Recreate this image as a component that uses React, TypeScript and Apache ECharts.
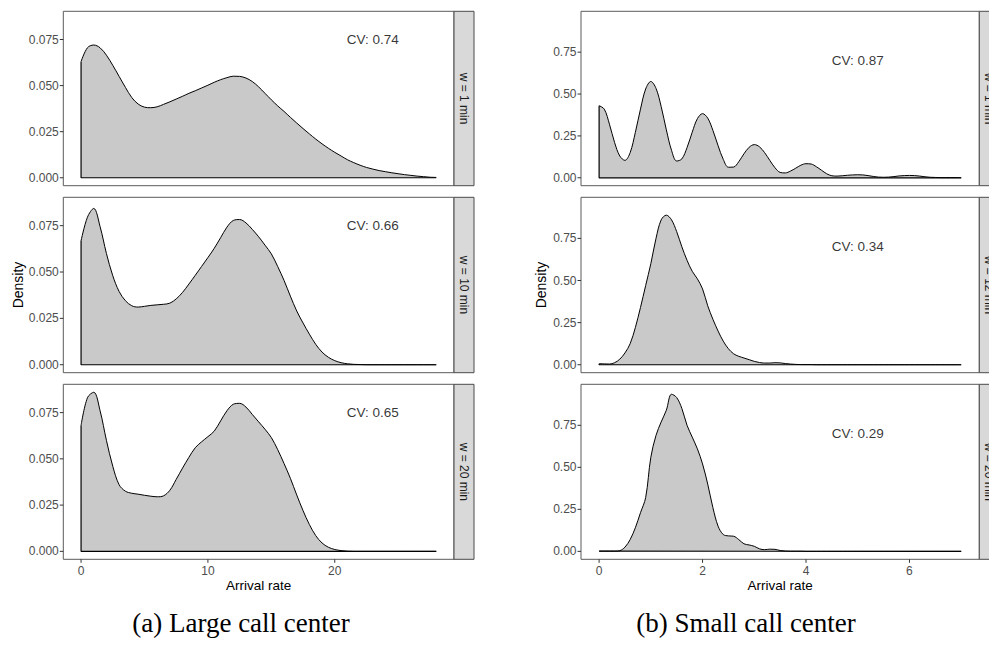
import React, { useEffect, useRef } from "react";
import * as echarts from "echarts";

// Sampling grids of the density estimates
const sampleGrid = (start: number, step: number, n: number) =>
  Array.from({ length: n }, (_, i) => +(start + i * step).toFixed(2));
const LARGE_X = sampleGrid(0, 0.5, 57); // 0 .. 28
const SMALL_X = sampleGrid(0, 0.1, 71); // 0 .. 7

// (a) Large call center, densities of the arrival rate
const LARGE_W1 = [
  0.063, 0.0705, 0.072, 0.0705, 0.0665, 0.061, 0.055, 0.049, 0.0435, 0.04,
  0.0383, 0.038, 0.0385, 0.0398, 0.0412, 0.0427, 0.0442, 0.0458, 0.0472, 0.0487,
  0.0502, 0.0518, 0.0532, 0.0543, 0.0551, 0.055, 0.0541, 0.0522, 0.0493, 0.0458,
  0.0423, 0.039, 0.036, 0.0328, 0.0297, 0.0267, 0.0238, 0.021, 0.0184, 0.016,
  0.0138, 0.0118, 0.0098, 0.0082, 0.0068, 0.0056, 0.0047, 0.0039, 0.0033, 0.0027,
  0.0022, 0.0017, 0.0013, 0.0009, 0.0006, 0.0003, 0.0002,
];
const LARGE_W10 = [
  0.0668, 0.0795, 0.0843, 0.0745, 0.06, 0.048, 0.0395, 0.0345, 0.0318, 0.0311,
  0.0315, 0.032, 0.0323, 0.0326, 0.0332, 0.0355, 0.039, 0.0435, 0.0482, 0.053,
  0.0578, 0.0628, 0.0685, 0.0742, 0.0778, 0.0783, 0.0765, 0.073, 0.069, 0.0645,
  0.0598, 0.053, 0.0455, 0.037, 0.029, 0.0225, 0.0165, 0.011, 0.0068, 0.004,
  0.0022, 0.0011, 0.0005, 0.0002, 0.0001, 0, 0, 0, 0, 0,
  0, 0, 0, 0, 0, 0, 0,
];
const LARGE_W20 = [
  0.068, 0.083, 0.086, 0.076, 0.06, 0.046, 0.036, 0.0325, 0.0314, 0.0309,
  0.0303, 0.0298, 0.0295, 0.03, 0.033, 0.0389, 0.045, 0.0508, 0.056, 0.0592,
  0.062, 0.065, 0.0705, 0.076, 0.0795, 0.08, 0.078, 0.074, 0.07, 0.066,
  0.0615, 0.055, 0.0475, 0.0395, 0.0305, 0.022, 0.0145, 0.0085, 0.0045, 0.0022,
  0.001, 0.0004, 0.0001, 0, 0, 0, 0, 0, 0, 0,
  0, 0, 0, 0, 0, 0, 0,
];

// (b) Small call center, densities of the arrival rate
const SMALL_W1 = [
  0.43, 0.41, 0.32, 0.21, 0.13, 0.104, 0.15, 0.27, 0.41, 0.53,
  0.575, 0.534, 0.425, 0.286, 0.164, 0.1, 0.113, 0.18, 0.272, 0.353,
  0.383, 0.356, 0.283, 0.192, 0.11, 0.063, 0.064, 0.096, 0.143, 0.182,
  0.198, 0.185, 0.15, 0.104, 0.06, 0.032, 0.029, 0.04, 0.057, 0.075,
  0.084, 0.082, 0.066, 0.045, 0.024, 0.012, 0.01, 0.012, 0.015, 0.017,
  0.018, 0.017, 0.013, 0.008, 0.004, 0.003, 0.004, 0.007, 0.011, 0.013,
  0.014, 0.013, 0.01, 0.006, 0.003, 0.002, 0.001, 0.001, 0.001, 0.001,
  0.001,
];
const SMALL_W12 = [
  0.006, 0.005, 0.004, 0.012, 0.033, 0.07, 0.125, 0.22, 0.34, 0.47,
  0.6, 0.75, 0.86, 0.888, 0.86, 0.79, 0.7, 0.62, 0.555, 0.51,
  0.45, 0.35, 0.27, 0.2, 0.14, 0.095, 0.065, 0.05, 0.04, 0.03,
  0.02, 0.013, 0.01, 0.01, 0.012, 0.011, 0.007, 0.004, 0.002, 0.001,
  0.001, 0.001, 0, 0, 0, 0, 0, 0, 0, 0,
  0, 0, 0, 0, 0, 0, 0, 0, 0, 0,
  0, 0, 0, 0, 0, 0, 0, 0, 0, 0,
  0,
];
const SMALL_W20 = [
  0.001, 0.001, 0.001, 0.001, 0.004, 0.025, 0.07, 0.14, 0.23, 0.32,
  0.56, 0.69, 0.77, 0.84, 0.935, 0.915, 0.85, 0.75, 0.68, 0.61,
  0.52, 0.4, 0.26, 0.15, 0.1, 0.092, 0.09, 0.07, 0.045, 0.038,
  0.03, 0.015, 0.01, 0.013, 0.012, 0.005, 0.002, 0.001, 0.001, 0.001,
  0, 0, 0, 0, 0, 0, 0, 0, 0, 0,
  0, 0, 0, 0, 0, 0, 0, 0, 0, 0,
  0, 0, 0, 0, 0, 0, 0, 0, 0, 0,
  0,
];

const LARGE_STRIPS = ["w = 1 min", "w = 10 min", "w = 20 min"];
const SMALL_STRIPS = ["w = 1 min", "w = 12 min", "w = 20 min"];
const LARGE_CV = ["CV: 0.74", "CV: 0.66", "CV: 0.65"];
const SMALL_CV = ["CV: 0.87", "CV: 0.34", "CV: 0.29"];

const LARGE_X_TICKS = [0, 10, 20];
const SMALL_X_TICKS = [0, 2, 4, 6];
const LARGE_Y_TICKS = [0, 0.025, 0.05, 0.075];
const SMALL_Y_TICKS = [0, 0.25, 0.5, 0.75];

const CAPTIONS = ["(a) Large call center", "(b) Small call center"];
const X_TITLE = "Arrival rate";
const Y_TITLE = "Density";

// Layout of the facet panels
const ROW_TOP = [11.3, 197.3, 384.3];
const ROW_H = [174.4, 175.4, 175];
const STRIP_W = 20;
const TICK_LEN = 3.5;
const SANS = "Liberation Sans, Arial, sans-serif";
const SERIF = "Liberation Serif, serif";

type Side = {
  left: number;
  width: number;
  xs: number[];
  ys: number[][];
  strips: string[];
  cv: string[];
  cvAt: [number, number];
  xMin: number;
  xMax: number;
  yMin: number;
  yMax: number;
  xTicks: number[];
  yTicks: number[];
  digits: number;
};

const SIDES: Side[] = [
  {
    left: 63.3,
    width: 390.7,
    xs: LARGE_X,
    ys: [LARGE_W1, LARGE_W10, LARGE_W20],
    strips: LARGE_STRIPS,
    cv: LARGE_CV,
    cvAt: [23, 0.075],
    xMin: -1.4,
    xMax: 29.4,
    yMin: -0.0043,
    yMax: 0.0903,
    xTicks: LARGE_X_TICKS,
    yTicks: LARGE_Y_TICKS,
    digits: 3,
  },
  {
    left: 581,
    width: 398.3,
    xs: SMALL_X,
    ys: [SMALL_W1, SMALL_W12, SMALL_W20],
    strips: SMALL_STRIPS,
    cv: SMALL_CV,
    cvAt: [5, 0.7],
    xMin: -0.35,
    xMax: 7.35,
    yMin: -0.0473,
    yMax: 0.994,
    xTicks: SMALL_X_TICKS,
    yTicks: SMALL_Y_TICKS,
    digits: 2,
  },
];

function buildOption() {
  const grid: any[] = [];
  const xAxis: any[] = [];
  const yAxis: any[] = [];
  const series: any[] = [];
  const graphic: any[] = [];

  SIDES.forEach((s, si) => {
    for (let r = 0; r < 3; r++) {
      const gi = grid.length;
      const bottomRow = r === 2;
      grid.push({
        left: s.left,
        top: ROW_TOP[r],
        width: s.width,
        height: ROW_H[r],
        show: true,
        borderColor: "#5a5a5a",
        borderWidth: 1,
        backgroundColor: "#ffffff",
      });
      xAxis.push({
        type: "value",
        gridIndex: gi,
        position: "bottom",
        min: s.xMin,
        max: s.xMax,
        axisLine: { show: false, onZero: false },
        splitLine: { show: false },
        axisTick: { show: false },
        axisLabel: {
          show: bottomRow,
          customValues: s.xTicks,
          margin: 6,
          fontSize: 12,
          color: "#4D4D4D",
          fontFamily: SANS,
        },
      });
      yAxis.push({
        type: "value",
        gridIndex: gi,
        position: "left",
        min: s.yMin,
        max: s.yMax,
        axisLine: { show: false, onZero: false },
        splitLine: { show: false },
        axisTick: { show: false },
        axisLabel: {
          show: true,
          customValues: s.yTicks,
          margin: 4.5,
          fontSize: 12,
          color: "#4D4D4D",
          fontFamily: SANS,
          formatter: (v: number) => v.toFixed(s.digits),
        },
      });

      const pts = s.xs.map((x, i) => [x, s.ys[r][i]]);
      const xEnd = s.xs[s.xs.length - 1];
      // density curve with its filled area
      series.push({
        type: "line",
        xAxisIndex: gi,
        yAxisIndex: gi,
        data: pts,
        smooth: 0.35,
        symbol: "none",
        lineStyle: { color: "#000000", width: 1 },
        areaStyle: { color: "#C9C9C9", opacity: 1 },
        z: 2,
      });
      // outline: left edge at x = 0 and baseline
      series.push({
        type: "line",
        xAxisIndex: gi,
        yAxisIndex: gi,
        data: [
          [0, s.ys[r][0]],
          [0, 0],
          [xEnd, 0],
        ],
        smooth: false,
        symbol: "none",
        lineStyle: { color: "#000000", width: 1.2 },
        z: 3,
      });
      // coefficient of variation annotation
      series.push({
        type: "scatter",
        xAxisIndex: gi,
        yAxisIndex: gi,
        data: [[s.cvAt[0], s.cvAt[1], s.cv[r]]],
        symbolSize: 0,
        silent: true,
        label: {
          show: true,
          position: "inside",
          formatter: (p: any) => p.value[2],
          fontSize: 13.5,
          color: "#000000",
          fontFamily: SANS,
        },
        z: 4,
      });

      // facet strip on the right
      const sx = s.left + s.width;
      graphic.push({
        type: "rect",
        shape: { x: sx, y: ROW_TOP[r], width: STRIP_W, height: ROW_H[r] },
        style: { fill: "#D9D9D9", stroke: "#4a4a4a", lineWidth: 1 },
        z: 10,
      });
      graphic.push({
        type: "text",
        x: sx + STRIP_W / 2,
        y: ROW_TOP[r] + ROW_H[r] / 2,
        rotation: -Math.PI / 2,
        style: {
          text: s.strips[r],
          fontSize: 12,
          fill: "#1A1A1A",
          fontFamily: SANS,
          textAlign: "center",
          textVerticalAlign: "middle",
        },
        z: 11,
      });
    }

    // shared axis titles
    graphic.push({
      type: "text",
      x: si === 0 ? 18 : 540.7,
      y: ROW_TOP[1] + ROW_H[1] / 2,
      rotation: Math.PI / 2,
      style: {
        text: Y_TITLE,
        fontSize: 14,
        fill: "#000000",
        fontFamily: SANS,
        textAlign: "center",
        textVerticalAlign: "middle",
      },
    });
    graphic.push({
      type: "text",
      x: s.left + s.width / 2,
      y: 585.5,
      style: {
        text: X_TITLE,
        fontSize: 13.5,
        fill: "#000000",
        fontFamily: SANS,
        textAlign: "center",
        textVerticalAlign: "middle",
      },
    });
  });

  // sub-figure captions
  CAPTIONS.forEach((c, i) => {
    graphic.push({
      type: "text",
      x: i === 0 ? 241 : 746,
      y: 623,
      style: {
        text: c,
        fontSize: 27,
        fill: "#000000",
        fontFamily: SERIF,
        textAlign: "center",
        textVerticalAlign: "middle",
      },
    });
  });

  return {
    animation: false,
    backgroundColor: "#ffffff",
    grid,
    xAxis,
    yAxis,
    series,
    graphic,
  };
}

// Tick marks on the outside of each panel, placed through the axes' scales
function tickMarks(chart: echarts.ECharts) {
  const marks: any[] = [];
  SIDES.forEach((s, si) => {
    for (let r = 0; r < 3; r++) {
      const gi = si * 3 + r;
      s.yTicks.forEach((v) => {
        const p = chart.convertToPixel({ gridIndex: gi } as any, [s.xMin, v]) as number[];
        marks.push({
          type: "line",
          shape: { x1: p[0] - TICK_LEN, y1: p[1], x2: p[0], y2: p[1] },
          style: { stroke: "#333333", lineWidth: 1 },
          z: 12,
        });
      });
      if (r === 2) {
        s.xTicks.forEach((v) => {
          const p = chart.convertToPixel({ gridIndex: gi } as any, [v, s.yMin]) as number[];
          marks.push({
            type: "line",
            shape: { x1: p[0], y1: p[1], x2: p[0], y2: p[1] + TICK_LEN },
            style: { stroke: "#333333", lineWidth: 1 },
            z: 12,
          });
        });
      }
    }
  });
  return marks;
}

export default function App() {
  const ref = useRef<HTMLDivElement>(null);
  useEffect(() => {
    if (!ref.current) return;
    const chart = echarts.init(ref.current, undefined, { renderer: "svg" });
    const option = buildOption();
    chart.setOption(option as any);
    chart.setOption({ graphic: [...option.graphic, ...tickMarks(chart)] } as any);
    return () => chart.dispose();
  }, []);
  return (
    <div
      ref={ref}
      style={{ position: "fixed", left: 0, top: 0, width: 989, height: 646 }}
    />
  );
}
